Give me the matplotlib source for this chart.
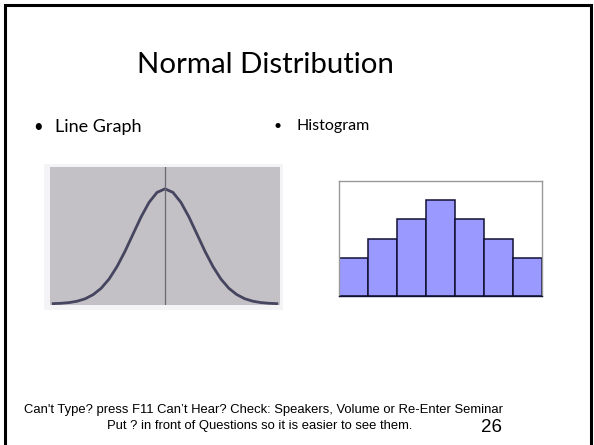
import matplotlib
matplotlib.use("Agg")
import matplotlib.pyplot as plt
from matplotlib.patches import Rectangle

W, H = 594, 445

# line graph values (peak = 1)
curve_x = [-3.5, -3.25, -3.0, -2.75, -2.5, -2.25, -2.0, -1.75, -1.5, -1.25, -1.0, -0.75, -0.5, -0.25, 0.0,
           0.25, 0.5, 0.75, 1.0, 1.25, 1.5, 1.75, 2.0, 2.25, 2.5, 2.75, 3.0, 3.25, 3.5]
curve_y = [0.002, 0.005, 0.011, 0.023, 0.044, 0.080, 0.135, 0.216, 0.325, 0.458, 0.607, 0.755, 0.882, 0.969, 1.0,
           0.969, 0.882, 0.755, 0.607, 0.458, 0.325, 0.216, 0.135, 0.080, 0.044, 0.023, 0.011, 0.005, 0.002]

# histogram bar heights
hist_bins = [1, 2, 3, 4, 5, 6, 7]
hist_counts = [2, 3, 4, 5, 4, 3, 2]

title = "Normal Distribution"
bullet_left = "Line Graph"
bullet_right = "Histogram"
footer1 = "Can't Type? press F11 Can\u2019t Hear? Check: Speakers, Volume or Re-Enter Seminar"
footer2 = "Put ? in front of Questions so it is easier to see them."
page_no = "26"


def px(x, y):
    return x / W, 1 - y / H


def box(l, t, r, b):
    return [l / W, 1 - b / H, (r - l) / W, (b - t) / H]


fig = plt.figure(figsize=(W / 100, H / 100), dpi=100)
fig.patch.set_facecolor("white")

# slide frame
fig.add_artist(Rectangle(px(5, 460), 586 / W, 455 / H, transform=fig.transFigure,
                         fill=False, edgecolor="black", linewidth=2.2))

fig.text(*px(265, 73), title, fontsize=21.2, family="Lato", ha="center", va="baseline")
fig.text(*px(38, 132), "\u2022", fontsize=12, family="Lato", ha="center", va="baseline")
fig.text(*px(55, 132), bullet_left, fontsize=13, family="Lato", ha="left", va="baseline")
fig.text(*px(278, 130), "\u2022", fontsize=10, family="Lato", ha="center", va="baseline")
fig.text(*px(296, 130), bullet_right, fontsize=11.5, family="Lato", ha="left", va="baseline")

fig.text(*px(263, 413), footer1, fontsize=9.33, family="Liberation Sans", ha="center", va="baseline")
fig.text(*px(260, 429), footer2, fontsize=9.33, family="Liberation Sans", ha="center", va="baseline")
fig.text(*px(492, 432), page_no, fontsize=13.5, family="Liberation Sans", ha="center", va="baseline")

# line graph (white frame behind the grey plot area)
ax0 = fig.add_axes(box(44, 164, 283, 310))
ax0.set_facecolor("#f4f4f6")
ax0.set_xticks([])
ax0.set_yticks([])
for s in ax0.spines.values():
    s.set_visible(False)

ax1 = fig.add_axes(box(50, 167, 280, 305))
ax1.set_facecolor("#c3c1c6")
ax1.plot(curve_x, curve_y, color="#46455f", linewidth=2.0, solid_joinstyle="round")
ax1.axvline(0, color="#6a6870", linewidth=0.9)
ax1.set_xlim(-3.6, 3.6)
ax1.set_ylim(-0.01, 1.19)
ax1.set_xticks([])
ax1.set_yticks([])
for s in ax1.spines.values():
    s.set_visible(False)

# histogram
ax2 = fig.add_axes(box(339, 181, 542, 296))
ax2.bar(hist_bins, hist_counts, width=1.0, color="#9999ff", edgecolor="#111133", linewidth=1.1)
ax2.set_xlim(0.5, 7.5)
ax2.set_ylim(0, 6)
ax2.set_xticks([])
ax2.set_yticks([])
for s in ax2.spines.values():
    s.set_color("#999999")
    s.set_linewidth(1.0)
ax2.spines["bottom"].set_color("#111133")

fig.savefig("out.png", dpi=100)
